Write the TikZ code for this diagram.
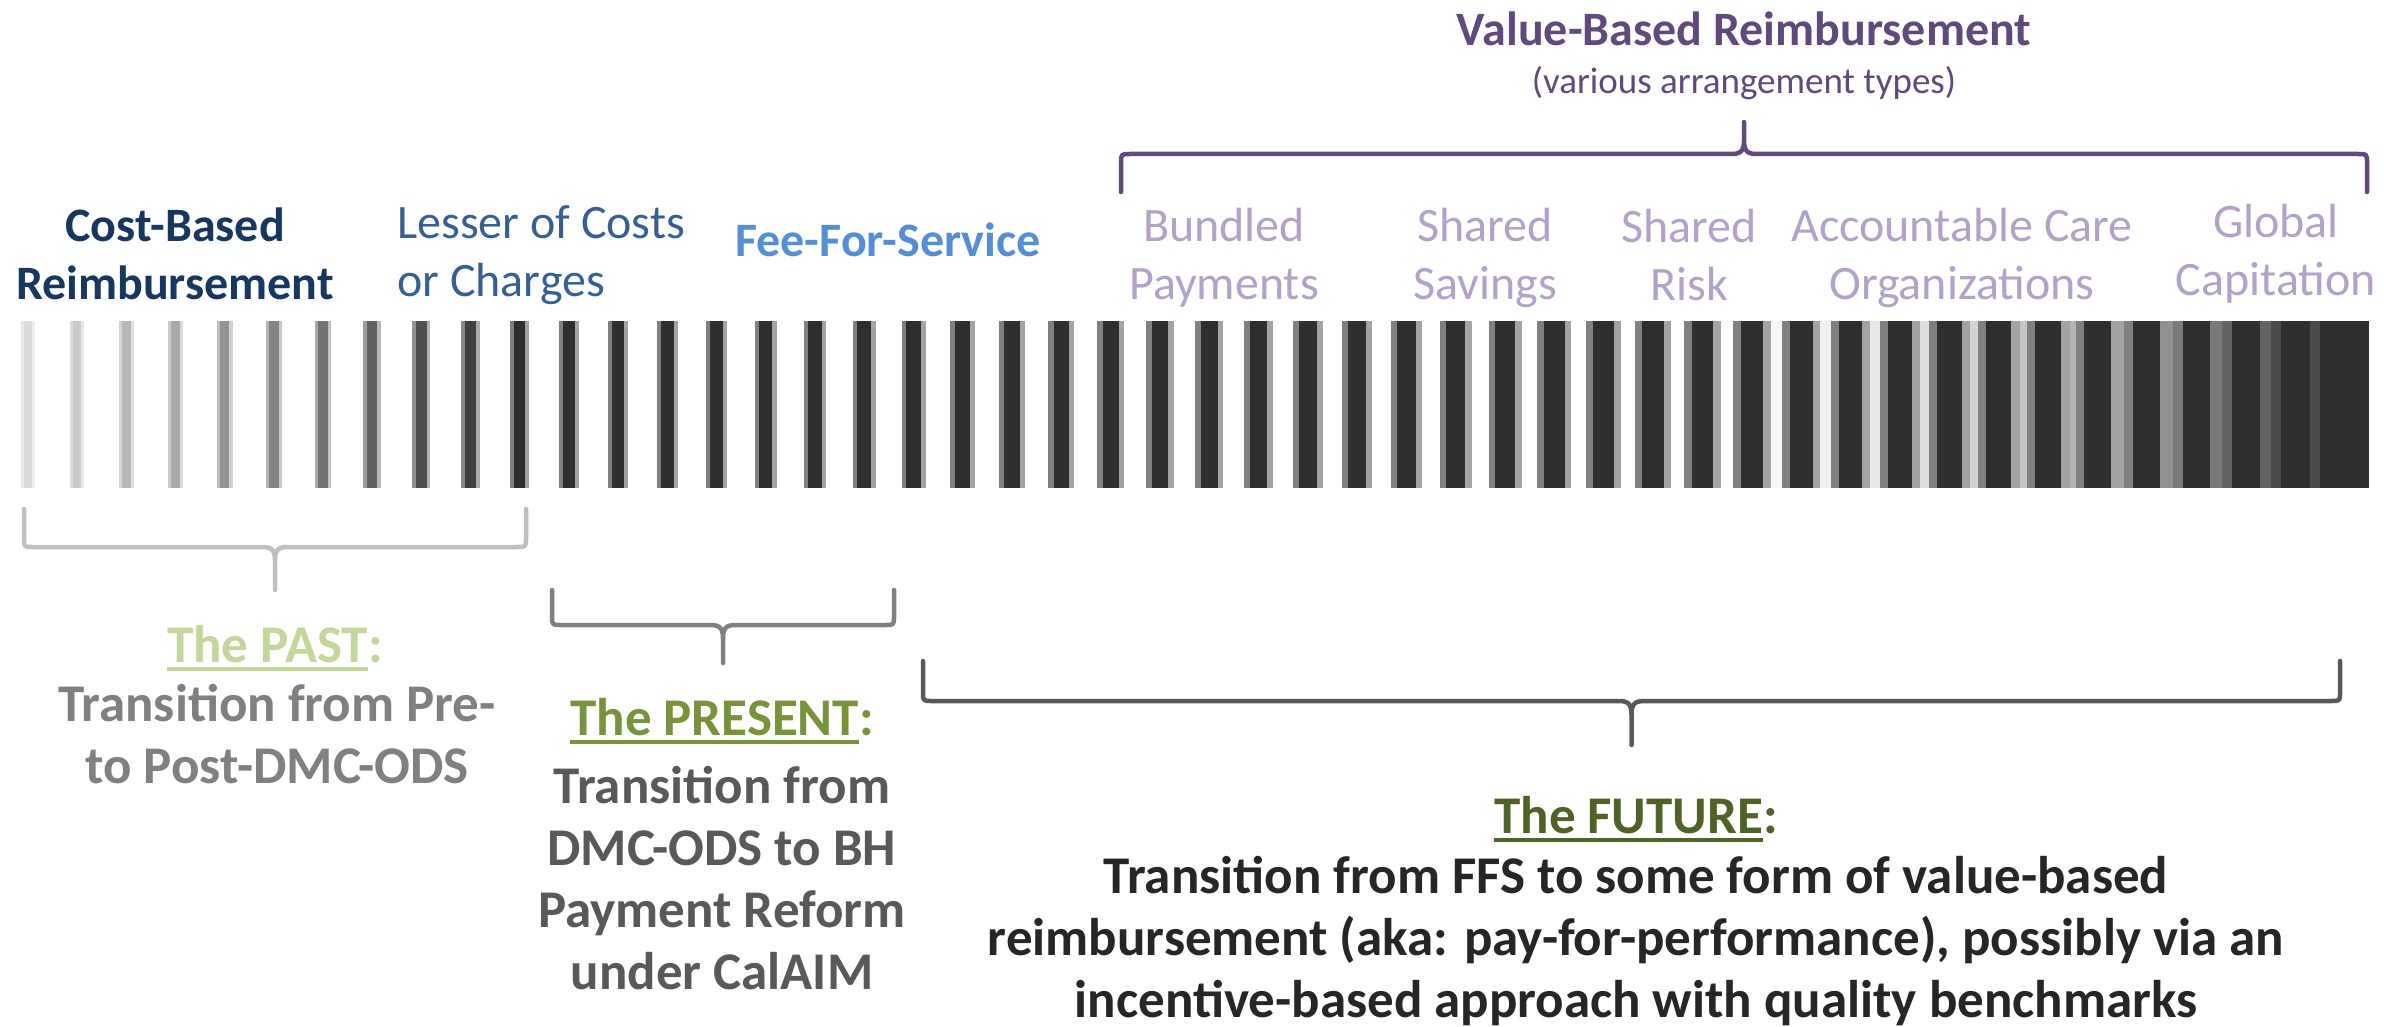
\documentclass[tikz,border=0pt]{standalone}
\usepackage{fontspec}
\setmainfont{Carlito}
\usepackage{tikz}
\usetikzlibrary{positioning}

\definecolor{barc}{HTML}{2F2F2F}
\definecolor{navy}{HTML}{17375E}
\definecolor{midblue}{HTML}{376092}
\definecolor{lightblue}{HTML}{558ED5}
\definecolor{darkpurple}{HTML}{604A7B}
\definecolor{lightpurple}{HTML}{B3A2C7}
\definecolor{pastgreen}{HTML}{C3D69B}
\definecolor{presgreen}{HTML}{77933C}
\definecolor{futgreen}{HTML}{4F6228}

\newcommand\undl[1]{\setbox0\hbox{#1}\rlap{\rule[-0.17em]{\wd0}{0.08em}}\box0}
% x1, x2, leg end, bar, tip
\newcommand\drawbrace[6][]{%
  \pgfmathsetmacro\bm{(#2+#3)/2}%
  \pgfmathsetmacro\bs{(#6-#5)/abs(#6-#5)}%
  \draw[#1] ({#2},{#4}) -- ({#2},{#5-9*\bs}) .. controls ({#2},{#5}) .. ({#2+9},{#5})
    -- ({\bm-13},{#5}) .. controls ({\bm-3},{#5}) and ({\bm},{#5+3*\bs}) .. ({\bm},{#5+14*\bs})
    -- ({\bm},{#6})
    ({\bm},{#5+14*\bs}) .. controls ({\bm},{#5+3*\bs}) and ({\bm+3},{#5}) .. ({\bm+13},{#5})
    -- ({#3-9},{#5}) .. controls ({#3},{#5}) .. ({#3},{#5-9*\bs}) -- ({#3},{#4});}

\begin{document}
\begin{tikzpicture}[x=1pt, y=-1pt,
    every node/.style={inner sep=0pt, align=center},
    toplabel/.style={font=\fontsize{48}{58}\selectfont},
    boldtop/.style={font=\fontsize{48}{58}\selectfont\bfseries},
    subfont/.style={font=\fontsize{37}{44}\selectfont},
    lowlabel/.style={font=\fontsize{53}{62}\selectfont\bfseries},
    bracket/.style={line width=4.5pt, line cap=round, line join=round}]
  \useasboundingbox (0,0) rectangle (2384,1027);
  \fill[white] (0,0) rectangle (2384,1027);

  % the stripes
  \foreach \i in {0,...,47} {
    \pgfmathsetmacro\t{\i/47}
    \pgfmathsetmacro\xa{21+\i*48.917}
    \pgfmathsetmacro\bw{14+35*(0.6*\t+0.4*\t*\t)}
    \pgfmathtruncatemacro\kc{min(100,18+390*\t)}
    \pgfmathtruncatemacro\kg{100*(max(0,\t-0.68)/0.32)^2}
    \pgfmathtruncatemacro\kl{max(\kg,0.62*\kc)}
    \pgfmathtruncatemacro\kr{max(\kg,0.45*\kc)}
    \fill[barc!\kg!white] (\xa,321) rectangle ++(48.917,167);
    \fill[barc!\kl!white] (\xa,321) rectangle ++(0.2*\bw,167);
    \fill[barc!\kc!white] (\xa+0.2*\bw,321) rectangle ++(0.6*\bw,167);
    \fill[barc!\kr!white] (\xa+0.8*\bw,321) rectangle ++(0.2*\bw,167);
  }

  % top labels
  \node[boldtop, text=darkpurple] (ValueBased) at (1744,29) {Value-Based Reimbursement};
  \node[subfont, text=darkpurple] (VariousTypes) at (1744,83) {(various arrangement types)};
  \node[boldtop, text=navy] (CostBased) at (175,254) {Cost-Based\\Reimbursement};
  \node[toplabel, text=midblue, anchor=west, align=left] (Lesser) at (397,255) {Lesser of Costs\\or Charges};
  \node[boldtop, text=lightblue] (FFS) at (888,240) {Fee-For-Service};
  \node[toplabel, text=lightpurple] (Bundled) at (1224,258) {Bundled\\Payments};
  \node[toplabel, text=lightpurple] (SharedSav) at (1485,258) {Shared\\Savings};
  \node[toplabel, text=lightpurple] (SharedRisk) at (1689,255) {Shared\\Risk};
  \node[toplabel, text=lightpurple] (ACO) at (1962,258) {Accountable Care\\Organizations};
  \node[toplabel, text=lightpurple] (Global) at (2276,254) {Global\\Capitation};

  % braces
  \drawbrace[bracket, darkpurple]{1121}{2367}{192}{154}{122}
  \drawbrace[bracket, black!25]{24}{526}{509}{547}{590}
  \drawbrace[bracket, black!50]{552}{894}{590}{625}{663}
  \drawbrace[bracket, black!65]{923}{2340}{661}{701}{745}

  % bottom labels
  \node[lowlabel, text=pastgreen] (PastHead) at (275,648) {\undl{The PAST}:};
  \node[lowlabel, text=black!50] (PastText) at (277,734) {Transition from Pre-\\to Post-DMC-ODS};
  \node[lowlabel, text=presgreen] (PresHead) at (722,721) {\undl{The PRESENT}:};
  \node[lowlabel, text=black!65] (PresText) at (722,878) {Transition from\\DMC-ODS to BH\\Payment Reform\\under CalAIM};
  \node[lowlabel, text=futgreen] (FutHead) at (1636,819) {\undl{The FUTURE}:};
  \node[lowlabel, text=black!85] (FutText) at (1636,941) {Transition from FFS to some form of value-based\\reimbursement (aka: pay-for-performance), possibly via an\\incentive-based approach with quality benchmarks};
\end{tikzpicture}
\end{document}
